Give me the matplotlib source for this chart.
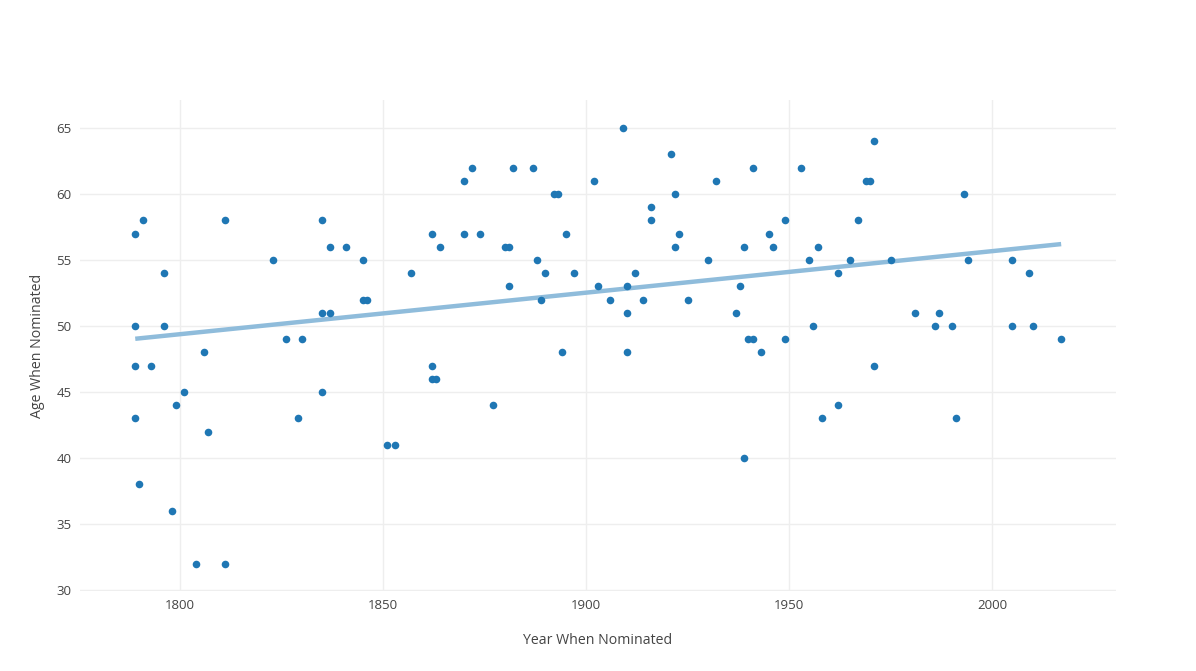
import numpy as np
import matplotlib.pyplot as plt

plt.rcParams['font.family'] = ['Open Sans', 'DejaVu Sans']

# Year each nominee was put forward, and their age at the time
years = [1789, 1789, 1789, 1789, 1790, 1791, 1793, 1796, 1796, 1798,
         1799, 1801, 1804, 1806, 1807, 1811, 1811, 1823, 1826, 1829,
         1830, 1835, 1835, 1835, 1837, 1837, 1841, 1845, 1845, 1846,
         1851, 1853, 1857, 1862, 1862, 1862, 1863, 1864, 1870, 1870,
         1872, 1874, 1877, 1880, 1881, 1881, 1882, 1887, 1888, 1889,
         1890, 1892, 1893, 1894, 1895, 1897, 1902, 1903, 1906, 1909,
         1910, 1910, 1910, 1912, 1914, 1916, 1916, 1921, 1922, 1922,
         1923, 1925, 1930, 1932, 1937, 1938, 1939, 1939, 1940, 1941,
         1941, 1943, 1945, 1946, 1949, 1949, 1953, 1955, 1956, 1957,
         1958, 1962, 1962, 1965, 1967, 1969, 1970, 1971, 1971, 1975,
         1981, 1986, 1987, 1990, 1991, 1993, 1994, 2005, 2005, 2009,
         2010, 2017]
ages = [57, 50, 47, 43, 38, 58, 47, 54, 50, 36,
        44, 45, 32, 48, 42, 58, 32, 55, 49, 43,
        49, 58, 51, 45, 56, 51, 56, 55, 52, 52,
        41, 41, 54, 57, 47, 46, 46, 56, 61, 57,
        62, 57, 44, 56, 56, 53, 62, 62, 55, 52,
        54, 60, 60, 48, 57, 54, 61, 53, 52, 65,
        53, 51, 48, 54, 52, 59, 58, 63, 60, 56,
        57, 52, 55, 61, 51, 53, 56, 40, 49, 49,
        62, 48, 57, 56, 58, 49, 62, 55, 50, 56,
        43, 54, 44, 55, 58, 61, 61, 64, 47, 55,
        51, 50, 51, 50, 43, 60, 55, 55, 50, 54,
        50, 49]

x_ticks = [1800, 1850, 1900, 1950, 2000]
y_ticks = [30, 35, 40, 45, 50, 55, 60, 65]

x = np.array(years)
y = np.array(ages)

# least squares trend line
slope, intercept = np.polyfit(x, y, 1)
xs = np.array([x.min(), x.max()])

fig = plt.figure(figsize=(11.96, 6.71), dpi=100)
ax = fig.add_axes([0.0669, 0.1192, 0.8662, 0.7317])

ax.scatter(x, y, s=30, color='#1f77b4', linewidths=0, zorder=3)
ax.plot(xs, slope * xs + intercept, color='#8fbcdb', lw=3.2,
        solid_capstyle='butt', zorder=2)

ax.set_xlim(1775.4, 2030.5)
ax.set_ylim(29.92, 67.12)
ax.set_xticks(x_ticks)
ax.set_yticks(y_ticks)

ax.grid(True, color='#eeeeee', lw=1)
ax.set_axisbelow(True)
for s in ax.spines.values():
    s.set_visible(False)
ax.tick_params(length=0, labelsize=9.5, colors='#444444', pad=6)

ax.set_xlabel('Year When Nominated', fontsize=10.2, color='#444444', labelpad=15)
ax.set_ylabel('Age When Nominated', fontsize=10.2, color='#444444', labelpad=8)

fig.savefig('out.png', dpi=100)
